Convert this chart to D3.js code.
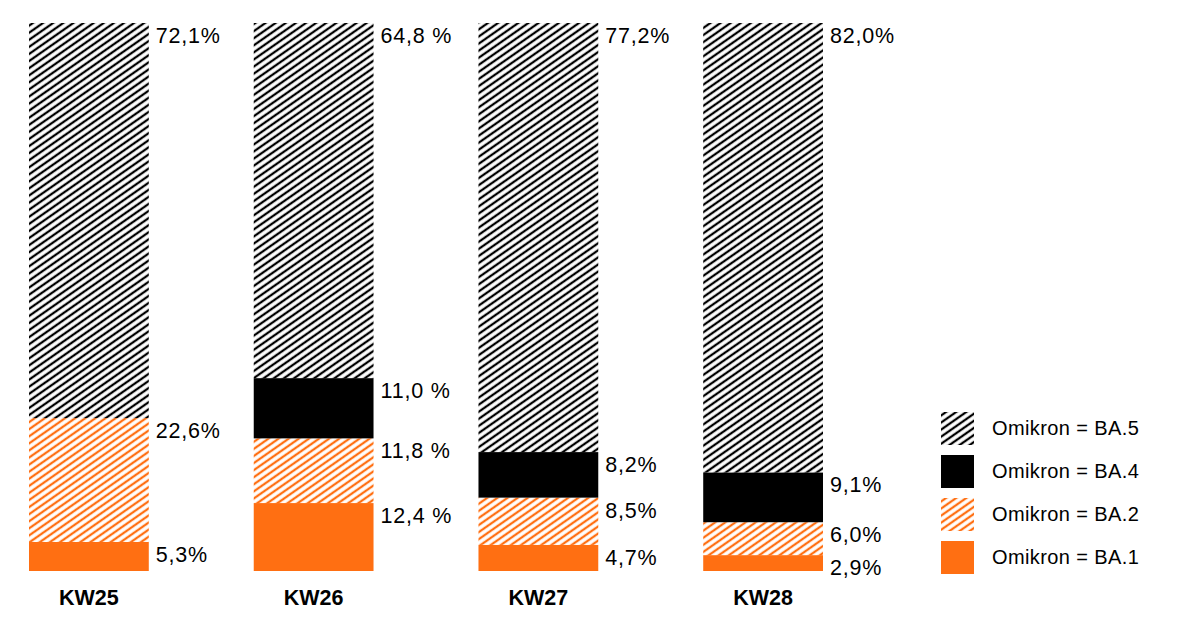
<!DOCTYPE html>
<html>
<head>
<meta charset="utf-8">
<script src="https://cdn.jsdelivr.net/npm/d3@7"></script>
<style>
    body { margin: 0; background: #fff; }
    text { font-family: "Liberation Sans", Arial, Helvetica, sans-serif; fill: #000; }
</style>
</head>
<body>
<div id="chart"></div>
<script>
// values per week (percent)
const weeks = ["KW25", "KW26", "KW27", "KW28"];
const ba1 = [5.3, 12.4, 4.7, 2.9];
const ba2 = [22.6, 11.8, 8.5, 6.0];
const ba4 = [0, 11.0, 8.2, 9.1];
const ba5 = [72.1, 64.8, 77.2, 82.0];
// KW26 labels were typeset with a space before the percent sign
const pctSep = ["", " ", "", ""];

const seriesKeys = ["ba1", "ba2", "ba4", "ba5"];
const legendNames = ["Omikron = BA.5", "Omikron = BA.4", "Omikron = BA.2", "Omikron = BA.1"];
const legendKeys = ["ba5", "ba4", "ba2", "ba1"];

const orange = "#ff6f12";
const fills = {
    ba1: orange,
    ba2: "url(#hatch-orange)",
    ba4: "#000",
    ba5: "url(#hatch-black)"
};

const table = weeks.map(function(w, i) {
    return { week: w, i: i, ba1: ba1[i], ba2: ba2[i], ba4: ba4[i], ba5: ba5[i] };
});

const width = 1200, height = 630;

const svg = d3.select("#chart").append("svg")
    .attr("width", width)
    .attr("height", height);

// hatch patterns
const defs = svg.append("defs");
function hatch(id, color) {
    const p = defs.append("pattern")
        .attr("id", id)
        .attr("patternUnits", "userSpaceOnUse")
        .attr("width", 6)
        .attr("height", 5.8)
        .attr("patternTransform", "rotate(-35)");
    p.append("rect")
        .attr("width", 6).attr("height", 5.8)
        .attr("fill", "#fff");
    p.append("line")
        .attr("x1", 0).attr("x2", 6)
        .attr("y1", 2.9).attr("y2", 2.9)
        .attr("stroke", color)
        .attr("stroke-width", 2.3);
}
hatch("hatch-black", "#000");
hatch("hatch-orange", orange);

const x = d3.scaleBand()
    .domain(weeks)
    .range([29, 823])
    .paddingInner(0.467)
    .paddingOuter(0);

const y = d3.scaleLinear()
    .domain([0, 1])
    .range([571, 23]);

const stack = d3.stack()
    .keys(seriesKeys)
    .offset(d3.stackOffsetExpand);
const stacked = stack(table);

const layers = svg.selectAll(".layer")
    .data(stacked)
    .enter().append("g")
    .attr("class", "layer")
    .attr("fill", function(d) { return fills[d.key]; });

layers.selectAll("rect")
    .data(function(d) { return d; })
    .enter().append("rect")
    .attr("x", function(d) { return x(d.data.week); })
    .attr("width", x.bandwidth())
    .attr("y", function(d) { return y(d[1]); })
    .attr("height", function(d) { return y(d[0]) - y(d[1]); });

// value labels next to each segment
const fmt = d3.format(".1f");
stacked.forEach(function(layer) {
    layer.forEach(function(d) {
        const v = d.data[layer.key];
        if (!v) return;
        svg.append("text")
            .attr("x", x(d.data.week) + x.bandwidth() + 7)
            .attr("y", y(d[1]) + 20)
            .attr("font-size", 21.5)
            .attr("letter-spacing", 0.8)
            .text(fmt(v).replace(".", ",") + pctSep[d.data.i] + "%");
    });
});

// week labels
svg.selectAll(".week")
    .data(weeks)
    .enter().append("text")
    .attr("class", "week")
    .attr("x", function(d) { return x(d) + x.bandwidth() / 2; })
    .attr("y", 605)
    .attr("text-anchor", "middle")
    .attr("font-size", 21.5)
    .attr("font-weight", "bold")
    .text(function(d) { return d; });

// legend
const legend = svg.append("g")
    .attr("transform", "translate(941,412)");

const item = legend.selectAll(".item")
    .data(legendKeys)
    .enter().append("g")
    .attr("class", "item")
    .attr("transform", function(d, i) { return "translate(0," + (i * 43) + ")"; });

item.append("rect")
    .attr("width", 33)
    .attr("height", 33)
    .attr("fill", function(d) { return fills[d]; });

item.append("text")
    .attr("x", 51)
    .attr("y", 23)
    .attr("font-size", 20)
    .attr("letter-spacing", 0.4)
    .text(function(d, i) { return legendNames[i]; });
</script>
</body>
</html>
